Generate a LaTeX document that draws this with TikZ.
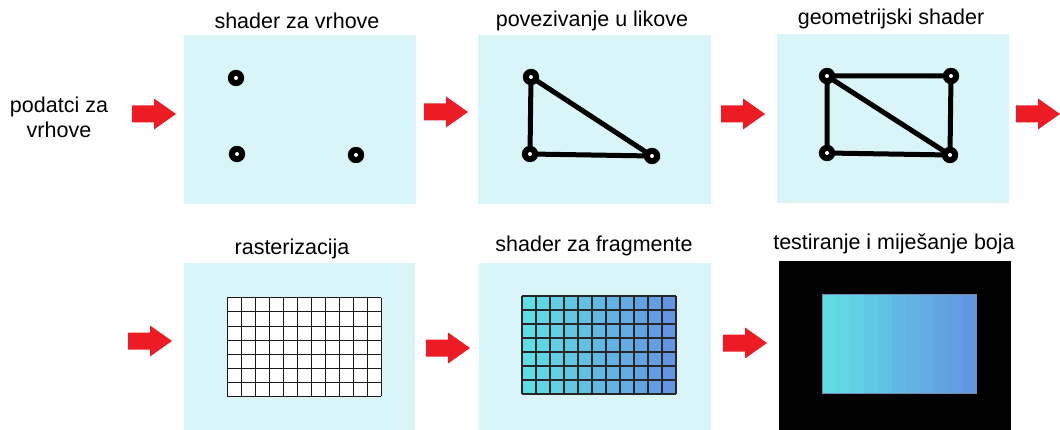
\documentclass[tikz,border=0pt]{standalone}
\usepackage{fontspec}
\setmainfont{Liberation Sans}
\definecolor{panel}{RGB}{218,245,247}
\definecolor{arrowred}{RGB}{237,28,36}
\definecolor{cyanA}{RGB}{96,221,228}
\definecolor{blueB}{RGB}{99,150,226}
\tikzset{
  panelbox/.style={fill=panel},
  title/.style={font=\fontsize{21.5}{25}\selectfont, anchor=base, inner sep=0pt},
  edgeline/.style={line width=5pt, line cap=round},
  blockarrow/.pic={\fill[arrowred] (0,-8.5) -- (22,-8.5) -- (22,-15.5) -- (44,0) -- (22,15.5) -- (22,8.5) -- (0,8.5) -- cycle;},
  vring/.pic={\fill[black] (0,0) circle (8.2pt); \fill[white] (0,0) circle (2pt);}
}
\begin{document}
\begin{tikzpicture}[x=1pt,y=-1pt]
\useasboundingbox (0,0) rectangle (1060,430);
% panels
\fill[panelbox] (184,35) rectangle (416,204);
\fill[panelbox] (478,35) rectangle (711,204);
\fill[panelbox] (777,34) rectangle (1009,203);
\fill[panelbox] (184,263) rectangle (415,430);
\fill[panelbox] (479,263) rectangle (711,430);
\fill[black] (779,261) rectangle (1011,430);
% titles
\node[title] (t1) at (297,29) {shader za vrhove};
\node[title] (t2) at (592,27) {povezivanje u likove};
\node[title] (t3) at (891,25) {geometrijski shader};
\node[title] (t4) at (292,255) {rasterizacija};
\node[title] (t5) at (594,252) {shader za fragmente};
\node[title] (t6) at (894,250) {testiranje i miješanje boja};
\node[font=\fontsize{21.5}{25}\selectfont, align=center, inner sep=0pt] (input) at (59,117) {podatci za\\vrhove};
% arrows
\pic at (132,114) {blockarrow};
\pic at (424,112) {blockarrow};
\pic at (721,114) {blockarrow};
\pic at (1016,114) {blockarrow};
\pic at (128,341) {blockarrow};
\pic at (426,348) {blockarrow};
\pic at (723,343) {blockarrow};
% panel 1: vertices
\coordinate (v1) at (236,78);
\coordinate (v2) at (237,154);
\coordinate (v3) at (356,155);
\foreach \v in {v1,v2,v3} \pic at (\v) {vring};
% panel 2: triangle
\coordinate (p1) at (531,77);
\coordinate (p2) at (530,154);
\coordinate (p3) at (652,156);
\draw[edgeline] (p1) -- (p2) -- (p3) -- cycle;
\foreach \v in {p1,p2,p3} \pic at (\v) {vring};
% panel 3: two triangles
\coordinate (g1) at (827,76);
\coordinate (g2) at (951,76);
\coordinate (g3) at (827,153);
\coordinate (g4) at (950,155);
\draw[edgeline] (g1) -- (g2) -- (g4) -- (g3) -- cycle;
\draw[edgeline] (g1) -- (g4);
\foreach \v in {g1,g2,g3,g4} \pic at (\v) {vring};
% panel 4: raster grid
\fill[white] (227,298) rectangle (381,396);
\foreach \i in {0,...,11} \draw[line width=1pt, black!90] (227+14*\i,298) -- (227+14*\i,396);
\foreach \j in {0,...,7} \draw[line width=1pt, black!90] (227,298+14*\j) -- (381,298+14*\j);
% panel 5: coloured fragments
\foreach \i in {0,...,10} {
  \pgfmathtruncatemacro{\p}{\i*10}
  \fill[blueB!\p!cyanA] (522+14*\i,296) rectangle ++(14,98);
}
\foreach \i in {0,...,11} \draw[line width=1.4pt, black!85] (522+14*\i,296) -- (522+14*\i,394);
\foreach \j in {0,...,7} \draw[line width=1.4pt, black!85] (522,296+14*\j) -- (676,296+14*\j);
% panel 6: blended result
\foreach \i in {0,...,10} {
  \pgfmathtruncatemacro{\p}{\i*10}
  \fill[blueB!\p!cyanA] (822+14*\i,294) rectangle ++(14,99);
}
\draw[line width=0.8pt, blueB!60!black!70] (822,294) rectangle (976,393);
\end{tikzpicture}
\end{document}
